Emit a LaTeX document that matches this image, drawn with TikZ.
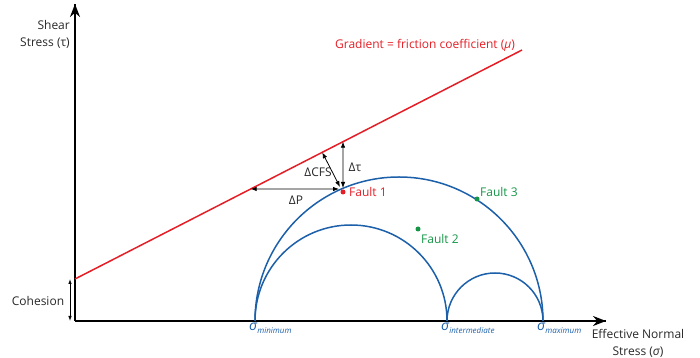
\documentclass[tikz,border=0pt]{standalone}
\usepackage{fontspec}
\setmainfont{Open Sans}
\usetikzlibrary{arrows.meta,calc}
\definecolor{fred}{RGB}{228,30,38}
\definecolor{fblue}{RGB}{28,96,170}
\definecolor{fgreen}{RGB}{20,150,70}
\definecolor{ftext}{RGB}{40,40,40}
\begin{document}
\begin{tikzpicture}[x=1pt,y=1pt,
  lbl/.style={font=\fontsize{12}{17}\selectfont, inner sep=1pt, text=ftext},
  axis/.style={line width=1.8pt, black, -{Stealth[length=13pt,width=10pt]}},
  redline/.style={line width=1.5pt, fred},
  blueline/.style={line width=1.5pt, fblue},
  dbl/.style={line width=0.8pt, black, {Latex[length=6pt,width=4.5pt]}-{Latex[length=6pt,width=4.5pt]}},
  dotr/.style={circle, fill=fred, inner sep=0pt, minimum size=5pt},
  dotg/.style={circle, fill=fgreen, inner sep=0pt, minimum size=5pt},
  siglbl/.style={font=\fontsize{14}{14}\selectfont\itshape, text=fblue, inner sep=0pt, anchor=north west}]
\useasboundingbox (0,0) rectangle (700,358);
% axes
\coordinate (O) at (75,37);
\coordinate (ytop) at (75,354);
\coordinate (xend) at (606,37);
\draw[line width=1.8pt] (O) -- (ytop);
\draw[line width=1.8pt] (O) -- (xend);
\draw[axis] (75,300) -- (ytop);
\draw[axis] (550,37) -- (xend);
% friction line
\coordinate (rA) at (75,79);
\coordinate (rB) at (522,308);
\draw[redline] (rA) -- (rB);
% Mohr circles
\coordinate (smin) at (255,37);
\coordinate (sint) at (447,37);
\coordinate (smax) at (543,37);
\draw[blueline] (smin) arc[start angle=180,end angle=0,radius=144];
\draw[blueline] (smin) arc[start angle=180,end angle=0,radius=96];
\draw[blueline] (sint) arc[start angle=180,end angle=0,radius=48];
% delta arrows
\coordinate (Pt) at (343,170);
\coordinate (Pc) at (340,171);
\coordinate (Pp) at (339,169);
\coordinate (PtUp) at (343,320);
\coordinate (PpLeft) at (100,169);
\coordinate (tauTop) at (intersection of rA--rB and Pt--PtUp);
\coordinate (dPend) at (intersection of rA--rB and Pp--PpLeft);
\coordinate (cfsEnd) at ($(rA)!(Pc)!(rB)$);
\draw[dbl] (Pt) -- (tauTop);
\draw[dbl] (Pp) -- (dPend);
\draw[dbl] (Pc) -- (cfsEnd);
\node[lbl] (dcfs) at (318,186) {ΔCFS};
\node[lbl] (dtau) at (355,191) {Δτ};
\node[lbl] (dp) at (296,158) {ΔP};
% faults
\node[dotr] (f1dot) at (343,166) {};
\node[dotg] (f3dot) at (477,159) {};
\node[dotg] (f2dot) at (418,129) {};
\node[lbl, text=fred, anchor=west] (f1) at (348,166) {Fault 1};
\node[lbl, text=fgreen, anchor=west] (f3) at (479,166) {Fault 3};
\node[lbl, text=fgreen, anchor=west] (f2) at (420,119) {Fault 2};
% labels
\node[lbl, text=fred] (grad) at (425,313) {Gradient = friction coefficient ({\itshape μ})};
\node[lbl, align=right, anchor=east] (ylab) at (71,324) {Shear\\Stress (τ)};
\node[lbl, align=center] (xlab) at (638,15) {Effective Normal\\Stress ({\itshape σ})};
\node[lbl] (coh) at (38,57) {Cohesion};
\coordinate (cohB) at (70,37);
\coordinate (cohT) at (70,79);
\draw[line width=0.8pt, {Latex[length=5pt,width=3.5pt]}-{Latex[length=5pt,width=3.5pt]}] (cohB) -- (cohT);
% sigma labels
\node[siglbl] (lmin) at ($(smin)+(-6,-2)$) {σ\raisebox{-3pt}{\fontsize{8}{9}\selectfont minimum}};
\node[siglbl] (lint) at ($(sint)+(-6,-2)$) {σ\raisebox{-3pt}{\fontsize{8}{9}\selectfont intermediate}};
\node[siglbl] (lmax) at ($(smax)+(-6,-2)$) {σ\raisebox{-3pt}{\fontsize{8}{9}\selectfont maximum}};
\end{tikzpicture}
\end{document}
